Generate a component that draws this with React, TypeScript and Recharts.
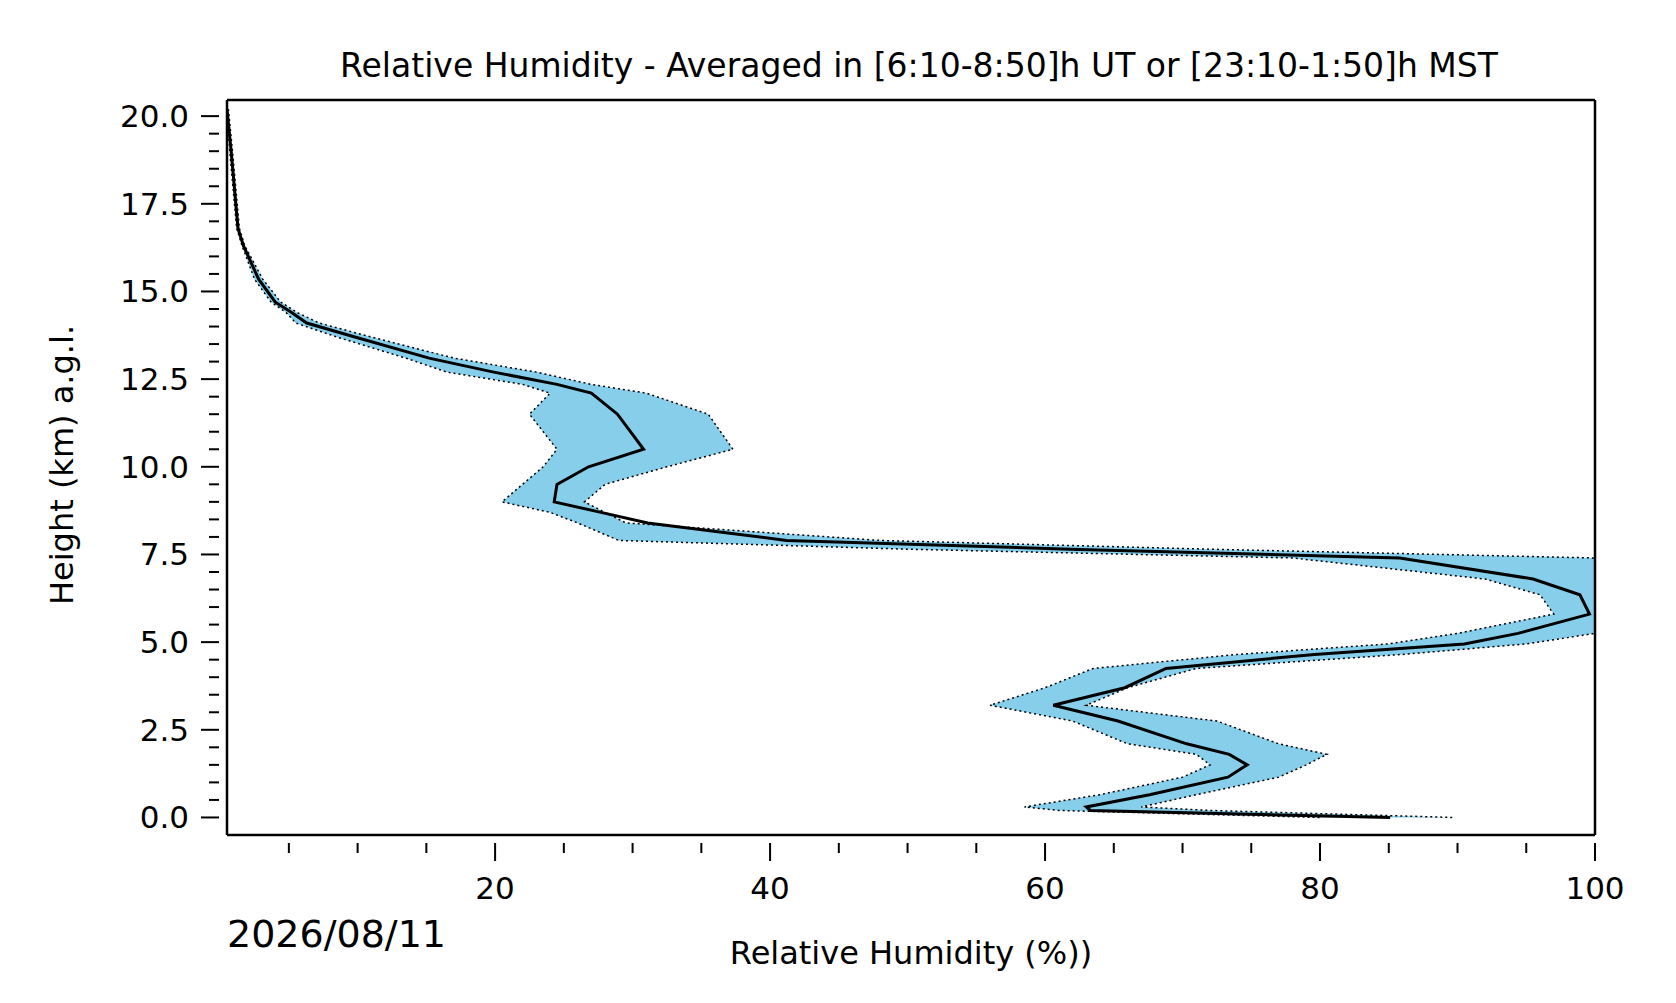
import React from 'react';
import { ComposedChart, Area, Line, XAxis, YAxis } from 'recharts';

const heights = [20.2,19.0,16.8,16.3,15.35,14.7,14.4,14.1,13.7,13.1,12.7,12.35,12.1,11.5,10.5,10.0,9.5,9.0,8.7,8.4,7.9,7.65,7.4,6.8,6.35,5.8,5.25,4.95,4.65,4.25,3.7,3.2,2.75,2.1,1.8,1.5,1.15,0.65,0.3,0.2,0.0];
const meanRH = [0.5,0.8,1.3,1.7,2.8,4,5.2,6.3,9.8,15.2,19.9,24.5,27,28.9,30.8,26.8,24.5,24.3,27.7,31.1,41.2,61.8,85.8,95.5,98.9,99.6,94.4,90.5,79.6,68.8,65.8,60.6,65.3,70.3,73.4,74.7,73.3,67.6,63,63.3,85.1];
const lowRH = [0.5,0.7,1.2,1.6,2.5,3.7,4.8,5.5,8.5,13.5,16.5,22,24,22.5,24.5,23.5,22,20.5,24,26,29,50,78,92,96,97,90,85,74,63.5,60,56,62,66,71,72,70,64,58.5,61,80];
const highRH = [0.6,0.9,1.4,1.8,3.1,4.4,5.6,7.2,11,17,23,27,31,35.5,37.3,32.5,28,26.5,28,29.5,48,72,100,100,100,100,100,95,86,71,66,63,72.5,77,80.5,79,77,71,67,72,89.7];

const xTicks = Array.from({ length: 20 }, (_, i) => 5 + i * 5);
const yTicks = Array.from({ length: 41 }, (_, i) => i * 0.5);

const data = heights.map((h, i) => ({ h, rh: meanRH[i], band: [lowRH[i], highRH[i]] }));
const FONT = 'DejaVu Sans';

const XTick = (p: any) => {
  const v = p.payload.value;
  const major = v % 20 === 0;
  return (
    <g>
      <line x1={p.x} x2={p.x} y1={p.y} y2={p.y + (major ? 18 : 10)} stroke="#000" strokeWidth={2} />
      {major && <text x={p.x} y={p.y + 56} textAnchor="middle" fontSize={31} fontFamily={FONT} fill="#000">{v}</text>}
    </g>
  );
};
const YTick = (p: any) => {
  const v = p.payload.value;
  const major = Math.abs(v / 2.5 - Math.round(v / 2.5)) < 1e-6;
  return (
    <g>
      <line x1={p.x} x2={p.x - (major ? 18 : 10)} y1={p.y} y2={p.y} stroke="#000" strokeWidth={2} />
      {major && <text x={p.x - 30} y={p.y + 11} textAnchor="end" fontSize={31} fontFamily={FONT} fill="#000">{v.toFixed(1)}</text>}
    </g>
  );
};

export default function App() {
  return (
    <div style={{ position: 'relative', width: 1660, height: 990, fontFamily: FONT }}>
      <ComposedChart width={1660} height={990} data={data} layout="vertical"
        margin={{ top: 91, right: 72, bottom: 162, left: 218 }}>
        <XAxis type="number" dataKey="rh" domain={[0.5, 100]} ticks={xTicks} height={1}
          tick={<XTick />} tickLine={false} axisLine={{ stroke: '#000', strokeWidth: 2.5 }} allowDataOverflow interval={0} />
        <XAxis xAxisId="top" orientation="top" type="number" domain={[0.5, 100]} height={1} tick={false} tickLine={false} axisLine={{ stroke: '#000', strokeWidth: 2.5 }} />
        <YAxis type="number" dataKey="h" domain={[-0.5, 20.46]} ticks={yTicks} width={1} reversed
          tick={<YTick />} tickLine={false} axisLine={{ stroke: '#000', strokeWidth: 2.5 }} allowDataOverflow interval={0} />
        <YAxis yAxisId="right" orientation="right" type="number" domain={[-0.5, 20.46]} width={1} reversed tick={false} tickLine={false} axisLine={{ stroke: '#000', strokeWidth: 2.5 }} />
        <Area dataKey="band" type="linear" fill="#87ceeb" fillOpacity={1} stroke="#000" strokeWidth={1.5} strokeDasharray="2 3" isAnimationActive={false} />
        <Line dataKey="rh" type="linear" stroke="#000" strokeWidth={3} dot={false} isAnimationActive={false} />
      </ComposedChart>
      <div style={{ position: 'absolute', left: 0, width: 1822, top: 38, textAlign: 'center', fontSize: 33, whiteSpace: 'nowrap' }}>
        Relative Humidity - Averaged in [6:10-8:50]h UT or [23:10-1:50]h MST
      </div>
      <div style={{ position: 'absolute', left: 219, width: 1368, top: 926, textAlign: 'center', fontSize: 32 }}>
        Relative Humidity (%))
      </div>
      <div style={{ position: 'absolute', left: 219, top: 904, fontSize: 38 }}>2026/08/11</div>
      <div style={{ position: 'absolute', left: 54, top: 457, width: 0, height: 0 }}>
        <div style={{ position: 'absolute', left: 0, top: 0, transform: 'translate(-50%, -50%) rotate(-90deg)', fontSize: 32, whiteSpace: 'nowrap' }}>Height (km) a.g.l.</div>
      </div>
    </div>
  );
}
